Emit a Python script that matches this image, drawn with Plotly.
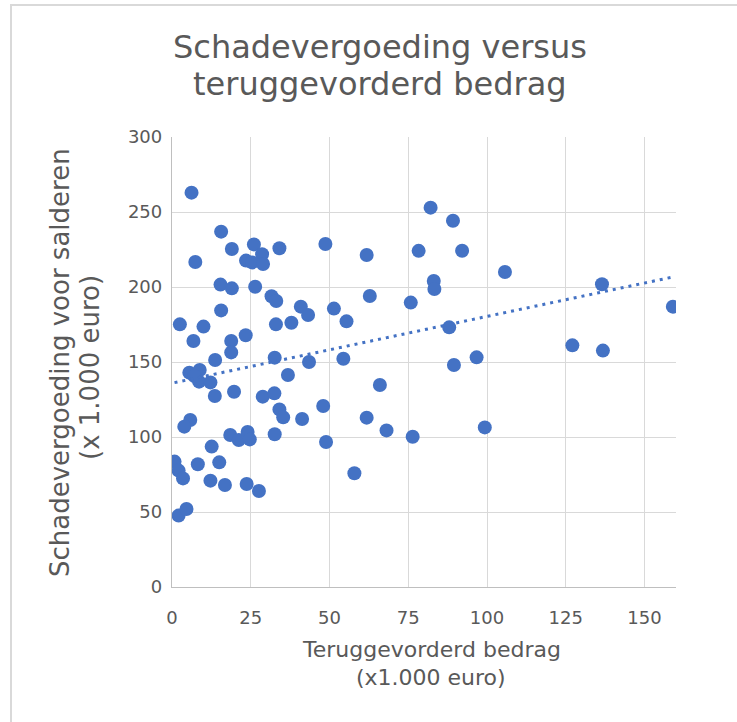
import numpy as np
import plotly.graph_objects as go

# Data (x1.000 euro)
terug = [6.2, 15.6, 19.0, 7.4, 26.0, 28.6, 23.5, 25.4, 28.9, 34.1, 48.7, 61.8, 78.3,
         15.4, 19.0, 26.4, 31.6, 33.1, 40.9, 43.2, 51.4, 55.4, 62.8, 75.8, 15.6,
         2.5, 10.0, 33.0, 37.9, 6.8, 18.8, 23.4, 18.8, 13.7, 32.6, 43.5, 54.4,
         5.5, 8.8, 8.6, 12.2, 7.1, 13.6, 19.7, 28.8, 32.5, 36.8, 34.1, 35.3, 41.3,
         48.0, 66.0, 61.8, 68.1, 76.4, 48.9, 32.6, 18.5, 21.2, 24.0, 24.7, 5.8, 3.9,
         12.6, 0.8, 2.1, 3.5, 8.2, 15.0, 12.2, 16.8, 23.7, 27.6, 57.9, 2.1, 4.6,
         82.1, 89.2, 92.1, 105.7, 83.1, 83.3, 88.0, 136.5, 159.0, 127.1, 136.8,
         89.5, 96.7, 99.3]
schade = [262.9, 236.9, 225.3, 216.7, 228.4, 221.8, 217.6, 216.4, 215.3, 225.8, 228.7, 221.3, 224.1,
          201.6, 199.1, 200.2, 193.8, 190.7, 186.9, 181.3, 185.6, 177.1, 194.0, 189.6, 184.4,
          175.1, 173.6, 175.1, 176.2, 164.0, 164.0, 167.8, 156.4, 151.3, 152.9, 150.0, 152.2,
          142.9, 144.7, 136.9, 136.4, 140.7, 127.3, 130.2, 126.9, 129.1, 141.3, 118.4, 113.1, 112.0,
          120.7, 134.7, 112.9, 104.4, 100.2, 96.7, 101.8, 101.3, 98.0, 103.3, 98.4, 111.3, 106.9,
          93.6, 83.6, 77.6, 72.4, 81.8, 83.1, 70.9, 68.0, 68.7, 64.0, 75.8, 47.6, 52.0,
          252.9, 244.2, 224.2, 210.0, 204.0, 198.7, 173.1, 201.8, 186.9, 161.1, 157.6,
          148.0, 153.1, 106.4]

x_ticks = [0, 25, 50, 75, 100, 125, 150]
y_ticks = [0, 50, 100, 150, 200, 250, 300]

title_lines = ["Schadevergoeding versus", "teruggevorderd bedrag"]
x_title_lines = ["Teruggevorderd bedrag", "(x1.000 euro)"]
y_title_lines = ["Schadevergoeding voor salderen", "(x 1.000 euro)"]

W, H = 737, 722
L, R, T, B = 172, 61, 137, 135
PW, PH = W - L - R, H - T - B

def px(xp):
    return (xp - L) / PW

def py(yp):
    return (H - B - yp) / PH

# Linear trendline computed from the data
xa = np.array(terug)
ya = np.array(schade)
slope, inter = np.polyfit(xa, ya, 1)
tx = np.array([xa.min(), xa.max()])
ty = inter + slope * tx

FONT = "DejaVu Sans"
GREY = "#595959"
BLUE = "#4472C4"

fig = go.Figure()
fig.add_trace(go.Scatter(
    x=terug, y=schade, mode="markers",
    marker=dict(color=BLUE, size=14, line=dict(width=0)),
    showlegend=False, hoverinfo="x+y"))
fig.add_trace(go.Scatter(
    x=tx, y=ty, mode="lines",
    line=dict(color=BLUE, width=3, dash="3px,5px"),
    showlegend=False, hoverinfo="skip"))

def ann(text, x, y, size, angle=0):
    return dict(text=text, xref="paper", yref="paper", x=px(x), y=py(y),
                xanchor="center", yanchor="middle", showarrow=False, textangle=angle,
                font=dict(size=size, color=GREY, family=FONT))

fig.update_layout(
    width=W, height=H,
    margin=dict(l=L, r=R, t=T, b=B, autoexpand=False),
    paper_bgcolor="white", plot_bgcolor="white",
    font=dict(family=FONT, color=GREY),
    xaxis=dict(range=[0, 160], tickvals=x_ticks, ticktext=[str(v) for v in x_ticks],
               showgrid=True, gridcolor="#d9d9d9", gridwidth=1.3,
               showline=True, linecolor="#bfbfbf", linewidth=1.3,
               zeroline=False, ticks="", tickfont=dict(size=18, color=GREY),
               ticklabelstandoff=14),
    yaxis=dict(range=[0, 300], tickvals=y_ticks, ticktext=[str(v) for v in y_ticks],
               showgrid=True, gridcolor="#d9d9d9", gridwidth=1.3,
               showline=True, linecolor="#bfbfbf", linewidth=1.3,
               zeroline=False, ticks="", tickfont=dict(size=18, color=GREY),
               ticklabelstandoff=5),
    shapes=[dict(type="rect", xref="paper", yref="paper",
                 x0=px(11), x1=px(760), y0=py(740), y1=py(5),
                 line=dict(color="#d9d9d9", width=2), layer="below")],
    annotations=[
        ann(title_lines[0], 380, 47, 32),
        ann(title_lines[1], 380, 84, 32),
        ann(x_title_lines[0], 431, 649, 22),
        ann(x_title_lines[1], 431, 677, 22),
        ann(y_title_lines[0], 60, 363, 26, -90),
        ann(y_title_lines[1], 90, 368, 26, -90),
    ],
)

fig.write_html("out.html", config={"displayModeBar": False},
               post_script="document.body.style.margin='0';")
